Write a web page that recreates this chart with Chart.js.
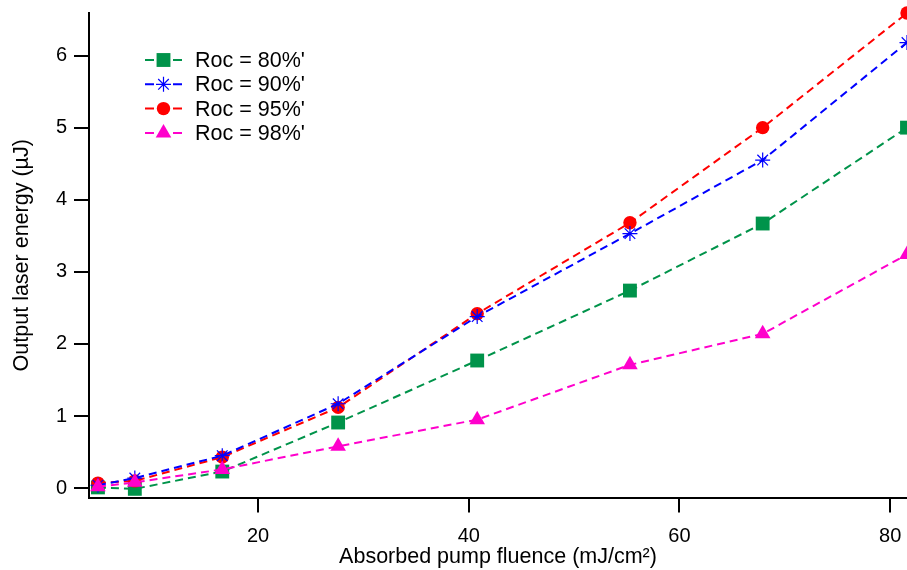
<!DOCTYPE html>
<html>
<head>
<meta charset="utf-8">
<script src="https://cdn.jsdelivr.net/npm/chart.js@4/dist/chart.umd.min.js"></script>
<style>
  body { margin: 0; background: #fff; }
  #wrap { width: 907px; height: 570px; }
</style>
</head>
<body>
<div id="wrap"><canvas id="c"></canvas></div>
<script>
// data
const fluence = [4.8, 8.3, 16.6, 27.6, 40.8, 55.3, 67.9, 81.6];
const roc80 = [0.01, -0.01, 0.23, 0.91, 1.77, 2.74, 3.67, 5.0];
const roc90 = [0.04, 0.14, 0.45, 1.17, 2.38, 3.53, 4.55, 6.18];
const roc95 = [0.07, 0.10, 0.43, 1.12, 2.42, 3.68, 5.0, 6.59];
const roc98 = [0.02, 0.08, 0.26, 0.58, 0.95, 1.71, 2.14, 3.24];
const labels = ["Roc = 80%'", "Roc = 90%'", "Roc = 95%'", "Roc = 98%'"];
const xTicks = [20, 40, 60, 80];
const yTicks = [0, 1, 2, 3, 4, 5, 6];

const FONT = "'Liberation Sans', Arial, Helvetica, sans-serif";

function pts(ys) {
  return ys.map((y, i) => ({ x: fluence[i], y: y }));
}

function series(label, ys, color, style, radius, order) {
  return {
    label: label,
    data: pts(ys),
    borderColor: color,
    backgroundColor: color,
    pointBackgroundColor: color,
    pointBorderColor: color,
    pointStyle: style,
    pointRadius: radius,
    pointBorderWidth: style === 'star' ? 1.2 : 0,
    borderWidth: 2,
    borderDash: [8, 5],
    tension: 0,
    clip: false,
    order: order
  };
}

// legend drawn inside the plot, top-left
const insideLegend = {
  id: 'insideLegend',
  afterDatasetsDraw(chart) {
    const ctx = chart.ctx;
    const x0 = 145, y0 = 60, rowH = 24.3;
    ctx.save();
    chart.data.datasets.forEach((ds, i) => {
      const y = y0 + i * rowH;
      ctx.strokeStyle = ds.borderColor;
      ctx.lineWidth = 2;
      ctx.setLineDash([]);
      ctx.beginPath();
      ctx.moveTo(x0, y); ctx.lineTo(x0 + 9, y);
      ctx.moveTo(x0 + 28, y); ctx.lineTo(x0 + 37, y);
      ctx.stroke();
      ctx.fillStyle = ds.pointBackgroundColor;
      ctx.strokeStyle = ds.pointBorderColor;
      ctx.lineWidth = ds.pointBorderWidth || 1.2;
      Chart.helpers.drawPoint(ctx, {
        pointStyle: ds.pointStyle,
        radius: ds.pointRadius,
        rotation: 0,
        borderWidth: ds.pointBorderWidth
      }, x0 + 18.5, y);
      ctx.fillStyle = '#000';
      ctx.font = '21.5px ' + FONT;
      ctx.textBaseline = 'middle';
      ctx.textAlign = 'left';
      ctx.fillText(ds.label, 195, y + 1);
    });
    ctx.restore();
  }
};

const chart = new Chart(document.getElementById('c'), {
  type: 'line',
  data: {
    datasets: [
      series(labels[0], roc80, '#00934a', 'rect', 9.8, 4),
      series(labels[1], roc90, '#0000ff', 'star', 7.5, 2),
      series(labels[2], roc95, '#ff0000', 'circle', 6.7, 3),
      series(labels[3], roc98, '#ff00cc', 'triangle', 9, 1)
    ]
  },
  options: {
    responsive: true,
    maintainAspectRatio: false,
    animation: false,
    layout: { autoPadding: false, padding: { top: 13, right: 0, left: 0, bottom: 0 } },
    plugins: {
      legend: { display: false },
      tooltip: { enabled: false }
    },
    scales: {
      x: {
        type: 'linear',
        min: 3.95,
        max: 81.6,
        afterBuildTicks: (axis) => { axis.ticks = xTicks.map(v => ({ value: v })); },
        afterFit: (axis) => { axis.height = 72.5; axis.paddingLeft = 0; axis.paddingRight = 0; },
        grid: { display: true, drawOnChartArea: false, drawTicks: true, tickLength: 15, color: '#000', lineWidth: 2 },
        border: { display: true, color: '#000', width: 2 },
        ticks: { color: '#000', font: { family: FONT, size: 20 }, padding: 12, maxRotation: 0 },
        title: { display: true, text: 'Absorbed pump fluence (mJ/cm²)', color: '#000', font: { family: FONT, size: 21.5 }, padding: { top: 0, bottom: 0 } }
      },
      y: {
        type: 'linear',
        min: -0.13,
        max: 6.59,
        afterBuildTicks: (axis) => { axis.ticks = yTicks.map(v => ({ value: v })); },
        afterFit: (axis) => { axis.width = 89; axis.paddingTop = 0; axis.paddingBottom = 0; },
        grid: { display: true, drawOnChartArea: false, drawTicks: true, tickLength: 15, color: '#000', lineWidth: 2 },
        border: { display: true, color: '#000', width: 2 },
        ticks: { color: '#000', font: { family: FONT, size: 20 }, padding: 7 },
        title: { display: true, text: 'Output laser energy (µJ)', color: '#000', font: { family: FONT, size: 21.5 }, padding: { top: 9, bottom: 4 } }
      }
    }
  },
  plugins: [insideLegend]
});
</script>
</body>
</html>
